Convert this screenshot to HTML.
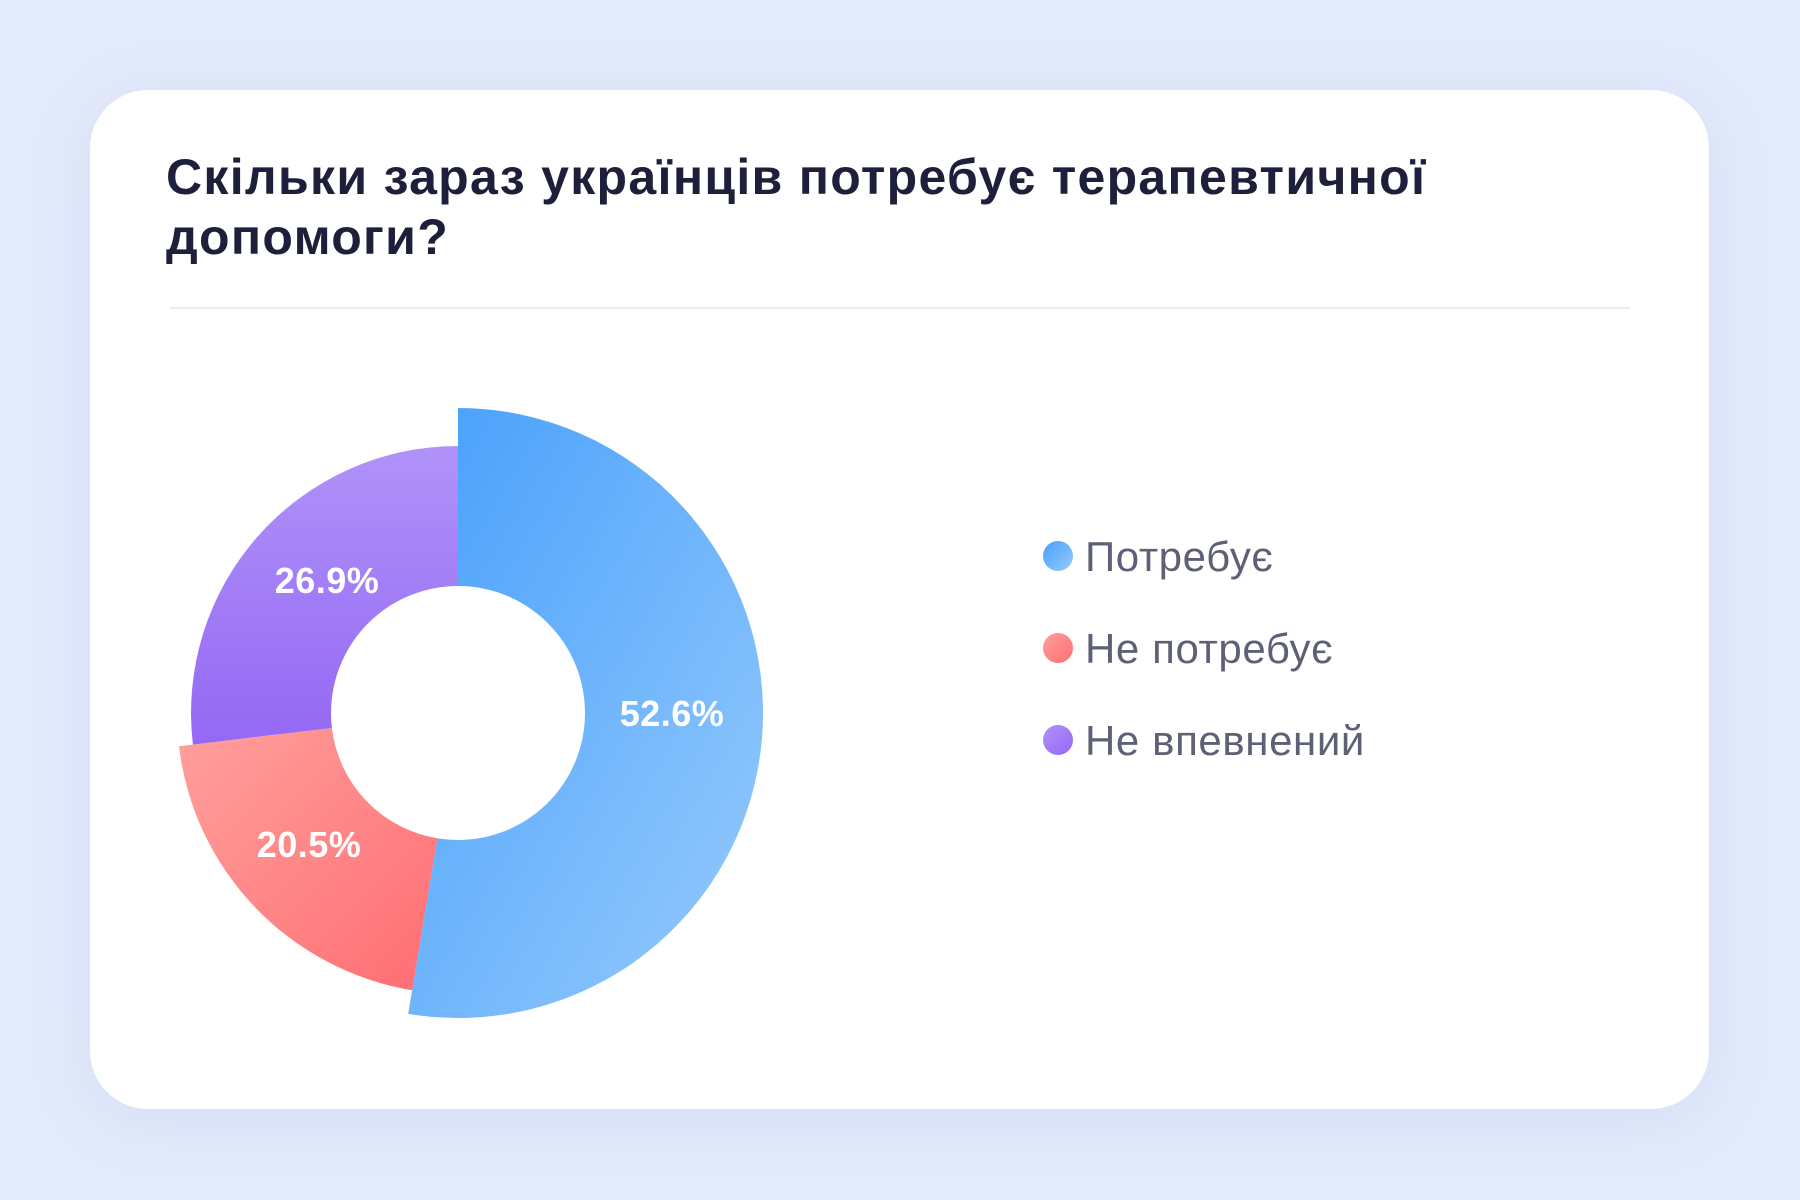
<!DOCTYPE html>
<html><head><meta charset="utf-8"><style>
html,body{margin:0;padding:0;width:1800px;height:1200px;overflow:hidden;background:#e3ebfb;font-family:"Liberation Sans","DejaVu Sans",sans-serif;}
.card{position:absolute;left:90px;top:90px;width:1619px;height:1019px;background:#fff;border-radius:58px;box-shadow:0 10px 60px rgba(120,150,210,0.15);}
.title{position:absolute;left:166px;top:147px;font-size:50px;letter-spacing:1.3px;font-weight:bold;color:#1e1f3a;line-height:60px;width:1500px;}
.hr{position:absolute;left:170px;top:307px;width:1460px;height:2px;background:#e8eaf0;}
.leg{position:absolute;left:1043px;font-size:42px;letter-spacing:0.6px;color:#5e6075;line-height:50px;}
.dot{display:inline-block;width:30px;height:30px;border-radius:50%;vertical-align:middle;margin-right:12px;position:relative;top:-4px;}
</style></head><body>
<div class="card"></div>
<div class="title">Скільки зараз українців потребує терапевтичної<br>допомоги?</div>
<div class="hr"></div>
<svg width="1800" height="1200" style="position:absolute;left:0;top:0">
<defs>
<linearGradient id="gb" x1="0" y1="0" x2="1" y2="1"><stop offset="0" stop-color="#479ffb"/><stop offset="1" stop-color="#97cbfd"/></linearGradient>
<linearGradient id="gr" x1="0" y1="0" x2="1" y2="1"><stop offset="0" stop-color="#ffa09c"/><stop offset="1" stop-color="#ff6d73"/></linearGradient>
<linearGradient id="gp" x1="0" y1="0" x2="0" y2="1"><stop offset="0" stop-color="#b192f9"/><stop offset="1" stop-color="#9468f4"/></linearGradient>
</defs>
<path d="M458,408 A305,305 0 1 1 408.2,1013.9 L437.3,838.3 A127,127 0 1 0 458,586 Z" fill="url(#gb)"/>
<path d="M412.1,990.2 A281,281 0 0 1 179,746.3 L331.9,728 A127,127 0 0 0 437.3,838.3 Z" fill="url(#gr)"/>
<path d="M192.9,744.6 A267,267 0 0 1 458,446 L458,586 A127,127 0 0 0 331.9,728 Z" fill="url(#gp)"/>
<g font-family="Liberation Sans, sans-serif" font-weight="bold" font-size="36" fill="#fff" text-anchor="middle" letter-spacing="0.5">
<text x="672" y="726">52.6%</text>
<text x="309" y="857">20.5%</text>
<text x="327" y="593">26.9%</text>
</g>
</svg>
<div class="leg" style="top:532px"><span class="dot" style="background:linear-gradient(135deg,#479ffb,#97cbfd)"></span>Потребує</div>
<div class="leg" style="top:624px"><span class="dot" style="background:linear-gradient(135deg,#ffa09c,#ff6d73)"></span>Не потребує</div>
<div class="leg" style="top:716px"><span class="dot" style="background:linear-gradient(135deg,#b192f9,#9468f4)"></span>Не впевнений</div>
</body></html>
